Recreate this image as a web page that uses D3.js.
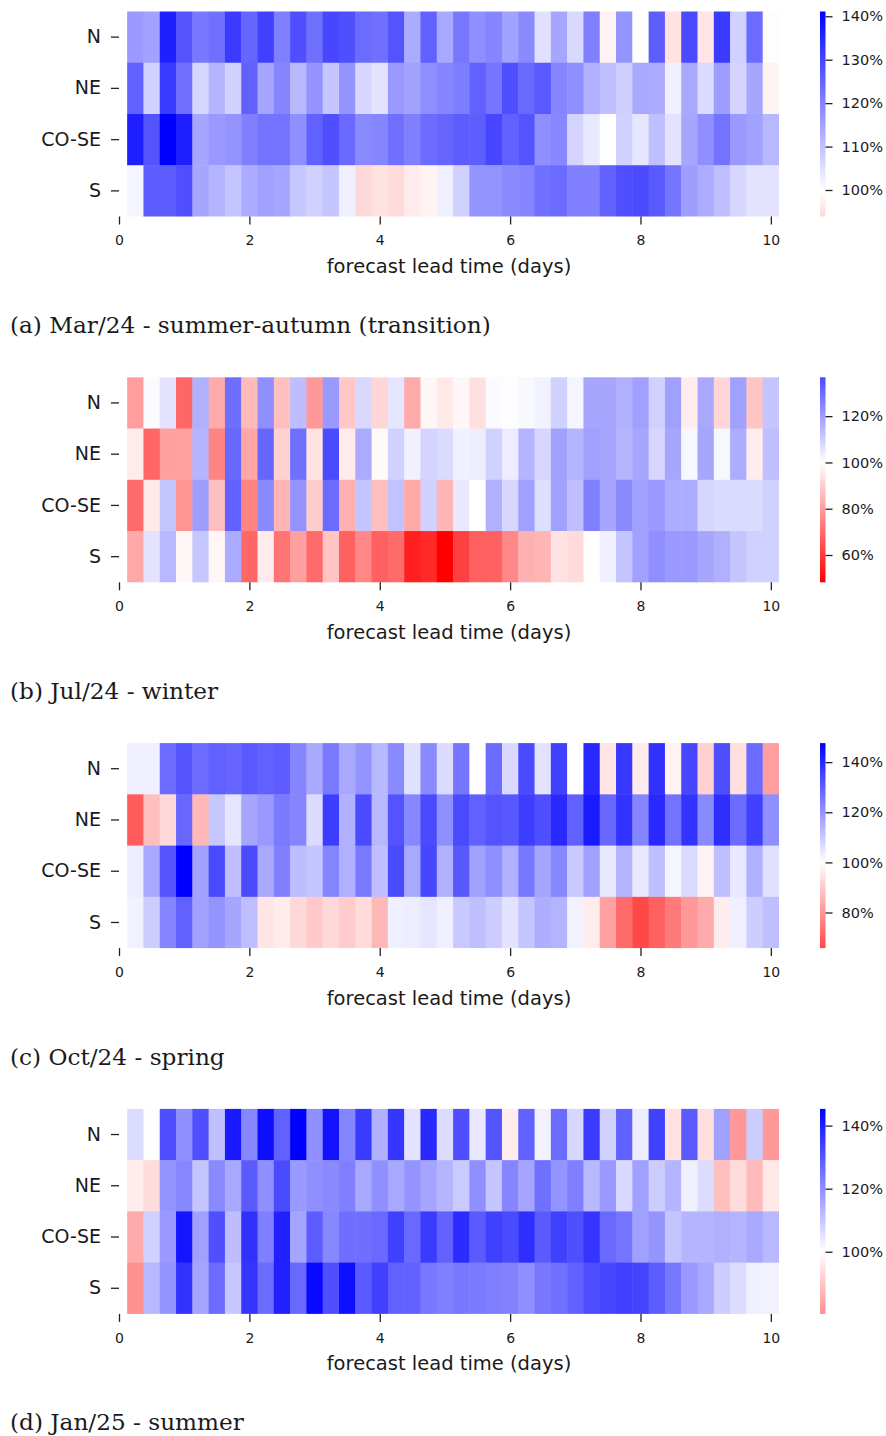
<!DOCTYPE html>
<html>
<head>
<meta charset="utf-8">
<script src="https://cdn.jsdelivr.net/npm/d3@7/dist/d3.min.js"></script>
<style>
  body { margin: 0; background: #fff; }
  svg text { font-family: "DejaVu Sans", sans-serif; fill: #1a1a1a; }
  svg text.caption { font-family: "DejaVu Serif", serif; }
</style>
</head>
<body>
<svg id="chart" width="886" height="1436"></svg>
<script>
"use strict";

// regions (rows) and forecast lead times (columns, every 6 h)
var regions = ["N", "NE", "CO-SE", "S"];
var leadTimes = d3.range(1, 41).map(function (k) { return k * 0.25; });
var xTicks = [0, 2, 4, 6, 8, 10];

// (a) Mar/24, values in %
var mar24N = [116.4, 115.2, 136, 127.5, 121.8, 123, 131.6, 124.7, 130.8, 120.5, 128.3, 123, 129.6, 128.3, 123.9, 123, 127.5, 113.6, 125.5, 114,
    121.8, 118, 119.7, 115.2, 118.9, 104.9, 114.4, 106.2, 120.5, 97.9, 117.3, 100, 125.9, 95.5, 129.2, 95.8, 131.6, 107.4, 123.9, 99.5];
var mar24NE = [125.5, 107.4, 131.6, 123, 106.6, 111.9, 107.4, 125.5, 114.4, 119.7, 111.5, 117.3, 109.4, 117.3, 106.6, 104.5, 116.4, 115.2, 118, 119.7,
    121, 125.5, 122.2, 128.3, 124.2, 126.7, 119.7, 118, 112.7, 110.3, 107.8, 114, 113.6, 102.5, 114, 105.8, 115.6, 107, 114.4, 98.3];
var mar24COSE = [136.2, 127.5, 141.1, 136.2, 114.4, 116.4, 117.3, 120.5, 122.6, 122.6, 118, 125.5, 128.3, 124.2, 118.9, 119.7, 123, 120.5, 123.9, 124.7,
    126.3, 125.9, 129.6, 125.5, 127.5, 118, 119.3, 107, 103.7, 100, 107.4, 104.1, 110.3, 104.5, 114.4, 118, 122.6, 116.4, 115.2, 111.5];
var mar24S = [101.6, 126.3, 126.3, 128.3, 114.4, 111.9, 109.4, 113.6, 115.2, 114.4, 109, 107.4, 109.4, 102.5, 93.9, 95.5, 94.2, 96.7, 98, 102.5,
    107.4, 117.3, 117.3, 118.9, 119.7, 123, 123.9, 120.5, 120.5, 125.5, 128.3, 129.2, 126.7, 122.2, 115.6, 113.2, 110.3, 106.6, 104.5, 104.5];
var mar24Ticks = [100, 110, 120, 130, 140];

// (b) Jul/24
var jul24N = [80.3, 101, 105.7, 68.9, 116.1, 82.9, 129.5, 86, 122.8, 87, 113.5, 79.3, 120.7, 88.6, 107.8, 91.7, 105.2, 82.9, 98.4, 95.3,
    98.4, 93.8, 101, 100.5, 101.4, 102.6, 109.3, 102, 118.1, 118.1, 116.1, 119.2, 109.3, 119.2, 96.4, 117.6, 91.7, 119.2, 88.1, 111.9];
var jul24NE = [95.9, 68.9, 80.8, 81, 115, 75.1, 130.6, 81.9, 131.1, 90.7, 129, 94.3, 136.8, 95.9, 117.1, 99, 109.3, 103.1, 108.8, 107.3,
    103.1, 103.6, 109.3, 103.6, 115, 108.3, 119.2, 115, 119.2, 118.1, 115, 118.1, 108.3, 118.1, 101.6, 118.1, 101.6, 116.6, 96.4, 113];
var jul24COSE = [70, 95.3, 111.9, 78.2, 119.7, 87, 132.1, 75.1, 123.8, 85, 121.8, 89.6, 130, 83.9, 111.9, 87, 112.4, 82.4, 109.3, 85,
    104.7, 100, 116.1, 108.3, 119.2, 106.7, 119.2, 113, 125.9, 118.1, 123.8, 119.2, 120.7, 116.6, 116.6, 108.3, 107.3, 107.3, 107.3, 109.3];
var jul24S = [82.4, 105.7, 114.5, 98.4, 111.4, 98, 117.1, 68.9, 95.9, 72, 80.8, 70, 88.1, 67.9, 75.7, 67.9, 70, 54.4, 56.5, 48.2,
    61.1, 67.9, 67.9, 75.7, 83.9, 85, 94.3, 92.7, 99.5, 103.1, 111.9, 119.2, 122.8, 120.7, 120.7, 118.1, 116.1, 111.9, 109.3, 109.3];
var jul24Ticks = [60, 80, 100, 120];

// (c) Oct/24
var oct24N = [102.9, 102.9, 127.6, 131.9, 127.6, 129.5, 128.6, 130.9, 129.5, 130.5, 122.8, 116.2, 124.8, 116.2, 120, 113.3, 121.9, 105.7, 121.9, 106.7,
    125.7, 99.8, 127.6, 107.1, 133.8, 105.2, 135.7, 100, 140, 95.2, 137.1, 96.2, 138.6, 97.6, 134.3, 91.4, 132.8, 93.8, 127.6, 81.9];
var oct24NE = [69.5, 88.1, 92.9, 128.1, 86.7, 110.5, 104.8, 116.7, 119, 124.8, 122.8, 106.7, 136.2, 114.8, 133.8, 113.3, 131.9, 122.4, 133.8, 120.9,
    133.8, 129.5, 131.9, 131.2, 136.2, 132.8, 140, 129.5, 142.8, 128.1, 138.1, 122.8, 140, 126.2, 138.1, 121.9, 139, 127.6, 135.7, 120.9];
var oct24COSE = [103.3, 116.2, 131.9, 147.6, 117.6, 133.8, 111.9, 133.8, 116.2, 123.8, 112.4, 110.9, 122.8, 114.8, 124.8, 111.9, 133.8, 116.2, 134.3, 114.8,
    131.2, 117.6, 120.9, 114.8, 125.2, 116.7, 122.4, 110, 117.6, 104.3, 113.8, 104.3, 111.9, 101.9, 106.7, 97.6, 111.9, 104.3, 114.8, 105.7];
var oct24S = [102.4, 109.5, 122.8, 129.5, 117.6, 120, 116.7, 111.9, 95.2, 96.2, 92.9, 90, 92.9, 90.5, 93.3, 86.7, 102.9, 103.3, 104.8, 102.9,
    110, 111.9, 109.5, 105.2, 110.9, 115.2, 113.8, 102.4, 96.7, 82.4, 72.4, 65.8, 70.5, 75.2, 81, 84.3, 96.7, 102.9, 109.3, 111.9];
var oct24Ticks = [80, 100, 120, 140];

// (d) Jan/25
var jan25N = [106.3, 99.8, 131.3, 119.9, 131.3, 111.3, 140.8, 121.3, 143, 128.1, 145.3, 119.9, 142.1, 121.7, 134.9, 114, 135.8, 105, 138, 106.3,
    131.3, 104.1, 130.4, 96.8, 128.1, 102.3, 126.3, 107.2, 134.9, 108.2, 128.1, 103.2, 134, 94.6, 129.4, 94.1, 116.8, 81.9, 109.1, 81.9];
var jan25NE = [96.8, 93.7, 119, 121.3, 110.4, 120.8, 115.4, 129.4, 119.9, 132.2, 118.1, 119.9, 120.8, 122.7, 115.4, 119.9, 115.4, 119, 115.9, 113.1,
    109.5, 119.9, 110.4, 121.7, 115.9, 125.4, 119, 122.7, 112.7, 118.1, 106.8, 116.8, 109.1, 113.1, 102.7, 106.3, 88.7, 93.7, 87.8, 95.9];
var jan25COSE = [85.1, 108.2, 118.1, 141.7, 116.8, 131.3, 111.8, 136.7, 122.7, 139.4, 115.9, 129, 121.3, 125.8, 125.8, 126.7, 134, 126.7, 134.9, 128.1,
    137.6, 129.4, 134, 132.2, 137.1, 129.4, 134, 131.3, 135.8, 126.7, 124.5, 116.8, 119, 110.4, 113.1, 113.1, 114, 113.1, 115.4, 112.7];
var jan25S = [80.3, 112.7, 119, 136.2, 115.9, 126.3, 110, 135.8, 126.3, 139.4, 126.7, 143.5, 131.3, 142.6, 129.4, 134, 128.1, 128.1, 124, 122.7,
    124, 123.6, 122.7, 122.2, 119.9, 124, 125.4, 128.1, 131.3, 132.7, 134, 133.3, 129, 124, 118.1, 115.4, 109.1, 106.3, 102.7, 102.3];
var jan25Ticks = [100, 120, 140];

var panels = [
    { caption: "(a) Mar/24 - summer-autumn (transition)", rows: [mar24N, mar24NE, mar24COSE, mar24S], cbTicks: mar24Ticks },
    { caption: "(b) Jul/24 - winter", rows: [jul24N, jul24NE, jul24COSE, jul24S], cbTicks: jul24Ticks },
    { caption: "(c) Oct/24 - spring", rows: [oct24N, oct24NE, oct24COSE, oct24S], cbTicks: oct24Ticks },
    { caption: "(d) Jan/25 - summer", rows: [jan25N, jan25NE, jan25COSE, jan25S], cbTicks: jan25Ticks }
];

var svg = d3.select("#chart");
var defs = svg.append("defs");

var panelStep = 365.8;
var mapLeft = 119, mapRight = 779;
var mapTop = 11.5, mapHeight = 205;
var barLeft = 820, barWidth = 5.5;
var halfStep = 0.125;

// x axis runs a little past 10 so the last 6 h cell fits
var x = d3.scaleLinear().domain([0, 10.125]).range([mapLeft, mapRight]);

panels.forEach(function (p, pi) {
    var top = mapTop + pi * panelStep;
    var g = svg.append("g").attr("class", "panel");

    var y = d3.scaleBand().domain(regions).range([top, top + mapHeight]);

    // seaborn-style centred colormap (bwr reversed, centre = 100 %)
    var ext = d3.extent(d3.merge(p.rows));
    var vr = Math.max(ext[1] - 100, 100 - ext[0]);
    var color = d3.scaleLinear()
        .domain([100 - vr, 100, 100 + vr])
        .range(["#ff0000", "#ffffff", "#0000ff"]);

    var cells = [];
    p.rows.forEach(function (vals, ri) {
        vals.forEach(function (v, ci) {
            cells.push({ region: regions[ri], t: leadTimes[ci], v: v });
        });
    });

    g.selectAll("rect.cell")
        .data(cells)
        .enter()
        .append("rect")
        .attr("class", "cell")
        .attr("x", function (d) { return x(d.t - halfStep); })
        .attr("y", function (d) { return y(d.region); })
        .attr("width", function (d) { return x(d.t + halfStep) - x(d.t - halfStep) + (d.t < 10 ? 0.5 : 0); })
        .attr("height", function (d) { return y.bandwidth() + (d.region !== "S" ? 0.5 : 0); })
        .attr("fill", function (d) { return color(d.v); });

    // x axis
    var xAxis = g.append("g")
        .attr("transform", "translate(0," + (top + mapHeight) + ")")
        .call(d3.axisBottom(x).tickValues(xTicks).tickFormat(d3.format("d")).tickSize(8).tickPadding(11));
    xAxis.select(".domain").remove();
    xAxis.attr("font-size", 14).attr("font-family", null).attr("color", "#222");
    xAxis.selectAll("line").attr("stroke-width", 1.3);

    // y axis
    var yAxis = g.append("g")
        .attr("transform", "translate(" + mapLeft + ",0)")
        .call(d3.axisLeft(y).tickSize(8).tickPadding(10));
    yAxis.select(".domain").remove();
    yAxis.attr("font-size", 19).attr("font-family", null).attr("color", "#222");
    yAxis.selectAll("line").attr("stroke-width", 1.3);

    g.append("text")
        .attr("x", (mapLeft + mapRight) / 2)
        .attr("y", top + mapHeight + 56.5)
        .attr("text-anchor", "middle")
        .attr("font-size", 19.5)
        .text("forecast lead time (days)");

    // colorbar
    var gid = "cbar" + pi;
    var grad = defs.append("linearGradient")
        .attr("id", gid)
        .attr("x1", 0).attr("y1", 1).attr("x2", 0).attr("y2", 0);
    [ext[0], 100, ext[1]].forEach(function (v) {
        grad.append("stop")
            .attr("offset", (v - ext[0]) / (ext[1] - ext[0]))
            .attr("stop-color", color(v));
    });

    var cb = d3.scaleLinear().domain(ext).range([top + mapHeight, top]);
    g.append("rect")
        .attr("x", barLeft)
        .attr("y", top)
        .attr("width", barWidth)
        .attr("height", mapHeight)
        .attr("fill", "url(#" + gid + ")");

    var cAxis = g.append("g")
        .attr("transform", "translate(" + (barLeft + barWidth) + ",0)")
        .call(d3.axisRight(cb).tickValues(p.cbTicks).tickFormat(function (d) { return d + "%"; }).tickSize(7).tickPadding(9));
    cAxis.select(".domain").remove();
    cAxis.attr("font-size", 14.5).attr("font-family", null).attr("color", "#222");
    cAxis.selectAll("line").attr("stroke-width", 1.3);

    // caption below the panel
    svg.append("text")
        .attr("class", "caption")
        .attr("x", 10)
        .attr("y", 333 + pi * panelStep)
        .attr("font-size", 23.2)
        .text(p.caption);
});
</script>
</body>
</html>
